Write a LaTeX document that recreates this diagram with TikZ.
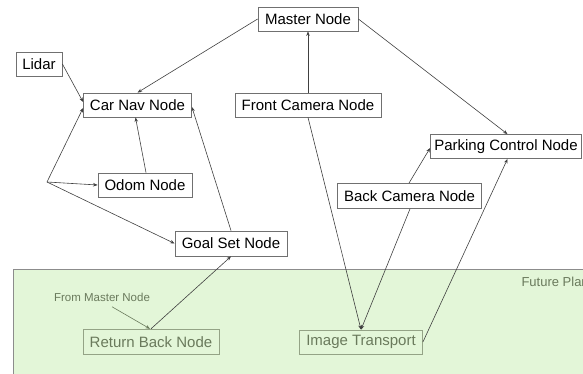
\documentclass[tikz,border=0pt]{standalone}
\usepackage{fontspec}
\setmainfont{Liberation Sans}
\usetikzlibrary{arrows.meta,calc}
\definecolor{edgecol}{HTML}{404040}
\definecolor{boxcol}{HTML}{707070}
\definecolor{futfill}{HTML}{E3F6D8}
\definecolor{futline}{HTML}{8C8C8C}
\definecolor{futtext}{HTML}{6A7A5C}
\definecolor{futbox}{HTML}{94A386}
\begin{document}
\begin{tikzpicture}[x=1pt,y=-1pt,
  nodebox/.style={draw=boxcol,line width=0.8pt,fill=white,inner sep=0pt,font=\fontsize{15}{17}\selectfont,text=black},
  futurebox/.style={draw=futbox,line width=0.8pt,inner sep=0pt,font=\fontsize{15}{17}\selectfont,text=futtext},
  conn/.style={draw=edgecol,line width=0.6pt,-{Stealth[length=4.5pt,width=3.5pt]}}]
\useasboundingbox (0,0) rectangle (583,374);
% future plan area
\fill[futfill] (13,269) rectangle (600,390);
\draw[futline,line width=0.9pt] (13,390) -- (13,269) -- (600,269);
\node[anchor=west,text=futtext,font=\fontsize{13}{15}\selectfont] (future) at (518,282) {Future Plan};
\node[text=futtext,font=\fontsize{11.5}{13}\selectfont] (frommaster) at (102,297) {From Master Node};
% nodes
\node[nodebox,minimum width=100,minimum height=24] (master) at (308,19) {Master Node};
\node[nodebox,minimum width=46,minimum height=24] (lidar) at (39,64) {Lidar};
\node[nodebox,minimum width=108,minimum height=24] (carnav) at (137.5,105) {Car Nav Node};
\node[nodebox,minimum width=146,minimum height=24] (front) at (308,105) {Front Camera Node};
\node[nodebox,minimum width=94,minimum height=24] (odom) at (145,185) {Odom Node};
\node[nodebox,minimum width=112,minimum height=25] (goal) at (231,243.5) {Goal Set Node};
\node[nodebox,minimum width=151,minimum height=24] (parking) at (506,146.5) {Parking Control Node};
\node[nodebox,minimum width=144,minimum height=25] (back) at (409.5,196) {Back Camera Node};
\node[futurebox,minimum width=136,minimum height=25] (ret) at (151,341.7) {Return Back Node};
\node[futurebox,minimum width=123,minimum height=24] (img) at (361,342) {Image Transport};
\coordinate (br) at (47,182);
% connectors
\draw[conn] (master.west) -- (carnav.north);
\draw[conn] (lidar.east) -- ($(carnav.west)+(0,-3)$);
\draw[conn] (br) -- ($(carnav.west)+(0,3)$);
\draw[conn] (br) -- (odom.west);
\draw[conn] (br) -- (goal.west);
\draw[conn] ($(odom.north)+(1,0)$) -- ($(carnav.south)+(-2,0)$);
\draw[conn] ($(goal.north)+(0,0)$) -- ($(carnav.east)+(0,2)$);
\draw[conn] (front.north) -- (master.south);
\draw[conn] (master.east) -- ($(parking.north)+(1.5,0)$);
\draw[conn] (front.south) -- (img.north);
\draw[conn] ($(back.south)+(0.5,0)$) -- (img.north);
\draw[conn] ($(back.north)+(-0.5,0)$) -- ($(parking.west)+(0,1.5)$);
\draw[conn] (img.east) -- ($(parking.south)+(1.5,0)$);
\draw[conn] (ret.north) -- (goal.south);
\draw[conn,draw=futtext] (frommaster.south) ++(10,2) -- ($(ret.north)+(-1,0)$);
\end{tikzpicture}
\end{document}
